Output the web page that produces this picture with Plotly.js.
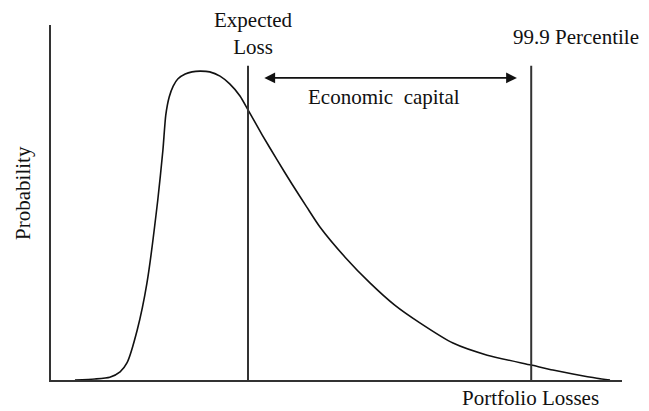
<!DOCTYPE html>
<html>
<head>
<meta charset="utf-8">
<script src="https://cdn.plot.ly/plotly-3.0.1.min.js"></script>
<style>html,body{margin:0;padding:0;background:#fff;}#chart{width:649px;height:411px;}</style>
</head>
<body>
<div id="chart"></div>
<script>
// Loss distribution curve (portfolio losses, probability)
var lossX = [4.2, 7.7, 10.3, 12.1, 13.3, 15.1, 16.8, 18.7, 19.6, 20.1, 20.7, 21.4, 22.2, 23.5, 24.7, 26.1, 27.8, 29.6, 31.3, 33.1, 34.5, 37.0, 39.6, 42.2, 44.8, 47.1, 51.5, 55.9, 60.2, 64.6, 70.4, 76.4, 84.1, 87.9, 91.4, 95.6, 97.9];
var probY = [0, 0.3, 0.8, 2.3, 4.8, 14.1, 27.3, 50.7, 64.8, 74.6, 79.7, 82.8, 84.8, 86.2, 86.8, 87.0, 86.8, 85.6, 83.4, 80.0, 76.1, 69.0, 62.0, 55.2, 48.7, 43.1, 34.6, 27.3, 21.1, 16.1, 10.4, 7.0, 4.2, 2.8, 1.7, 0.5, 0];
// Marker lines
var expectedLoss = 34.5;
var percentile999 = 84.1;
var markerTop = 88.5;
var capitalArrowY = 85.1;
var capitalArrowStart = 37.1;
var capitalArrowEnd = 81.6;
// Texts
var labelExpected = "Expected<br>Loss";
var labelPercentile = "99.9 Percentile";
var labelCapital = "Economic  capital";
var labelY = "Probability";
var labelX = "Portfolio Losses";

function mkFont() { return {family: "Liberation Serif", size: 21, color: "#111"}; }

var traces = [
  {x: lossX, y: probY, mode: "lines", line: {color: "#111", width: 1.6, shape: "spline", smoothing: 0.6}, hoverinfo: "skip"},
  {x: [expectedLoss, expectedLoss], y: [0, markerTop], mode: "lines", line: {color: "#333", width: 2}, hoverinfo: "skip"},
  {x: [percentile999, percentile999], y: [0, markerTop], mode: "lines", line: {color: "#333", width: 2}, hoverinfo: "skip"}
];

var layout = {
  width: 649, height: 411,
  margin: {l: 51, r: 27, t: 25, b: 31},
  paper_bgcolor: "#fff", plot_bgcolor: "#fff",
  showlegend: false,
  font: {family: "Liberation Serif", size: 21, color: "#111"},
  xaxis: {range: [0, 100], showline: true, linecolor: "#333", linewidth: 2, showgrid: false, zeroline: false, showticklabels: false, ticks: ""},
  yaxis: {range: [0, 100], showline: true, linecolor: "#333", linewidth: 2, showgrid: false, zeroline: false, showticklabels: false, ticks: ""},
  annotations: [
    {x: capitalArrowEnd, y: capitalArrowY, ax: capitalArrowStart, ay: capitalArrowY, xref: "x", yref: "y", axref: "x", ayref: "y",
     text: "", showarrow: true, arrowhead: 2, arrowside: "end+start", arrowsize: 1.2, arrowwidth: 1.8, arrowcolor: "#111"},
    {x: 0.583, y: 0.797, xref: "paper", yref: "paper", text: labelCapital, showarrow: false, font: mkFont(), xanchor: "center", yanchor: "middle"},
    {x: 0.354, y: 0.977, xref: "paper", yref: "paper", text: labelExpected, showarrow: false, font: mkFont(), xanchor: "center", yanchor: "middle"},
    {x: 0.919, y: 0.966, xref: "paper", yref: "paper", text: labelPercentile, showarrow: false, font: mkFont(), xanchor: "center", yanchor: "middle"},
    {x: -0.049, y: 0.527, xref: "paper", yref: "paper", text: labelY, showarrow: false, font: mkFont(), textangle: -90, xanchor: "center", yanchor: "middle"},
    {x: 0.839, y: -0.05, xref: "paper", yref: "paper", text: labelX, showarrow: false, font: mkFont(), xanchor: "center", yanchor: "middle"}
  ]
};

Plotly.newPlot("chart", traces, layout, {staticPlot: true, displayModeBar: false});
</script>
</body>
</html>
